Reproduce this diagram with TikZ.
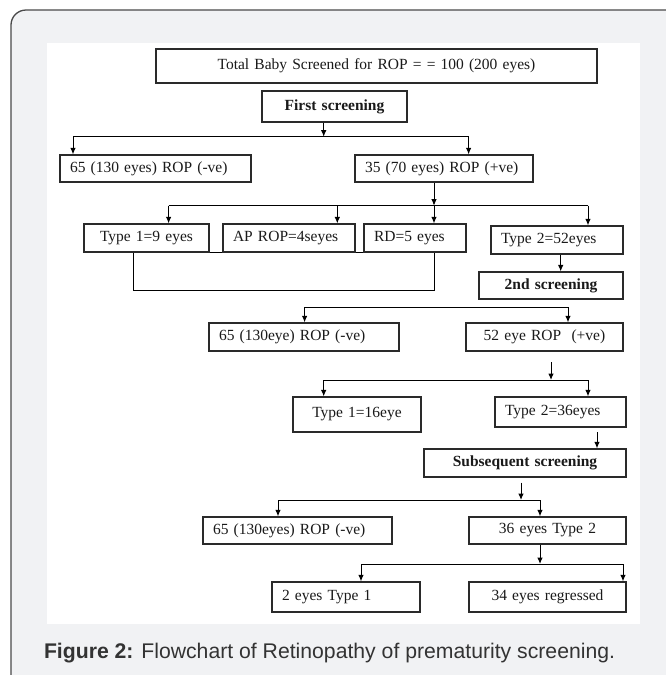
\documentclass[tikz,border=0pt]{standalone}
\usepackage{fontspec}
\setmainfont{Liberation Serif}
\newfontfamily\capfont{Liberation Sans}
\usetikzlibrary{arrows.meta}
\definecolor{panelgrey}{HTML}{F1F2F4}
\definecolor{framegrey}{HTML}{4A4A4A}
\definecolor{boxline}{HTML}{2A2A2A}
\definecolor{textdark}{HTML}{1A1A1A}
\definecolor{capgrey}{HTML}{333333}
\newcommand\boxfont{\fontsize{15.5}{17}\selectfont}
\tikzset{
  box/.style={draw=boxline, line width=1.2pt, fill=white, inner xsep=10pt, inner ysep=0pt,
    minimum height=28pt, font=\boxfont, text=textdark},
  lbox/.style={box, align=left},
  cbox/.style={box, align=center},
  bbox/.style={cbox, font=\boxfont\bfseries},
  ln/.style={draw=black, line width=1pt},
  arr/.style={ln, -{Latex[length=6.5pt,width=5.5pt]}}
}
\begin{document}
\begin{tikzpicture}[x=1pt,y=-1pt]
    \useasboundingbox (0,0) rectangle (666,675);
    \filldraw[fill=panelgrey, draw=framegrey, line width=1.3pt, rounded corners=15pt] (11,10) rectangle (690,700);
    \fill[white] (46.7,42.7) rectangle (640,624.3);

    % boxes
    \node[cbox, text width=421pt, minimum height=34pt] (total) at (376.5,66) {Total Baby Screened for ROP = = 100 (200 eyes)};
    \node[bbox, text width=125pt, minimum height=31pt] (first) at (334.5,106.5) {First screening};
    \node[lbox, text width=171pt, minimum height=27pt] (neg1) at (155.5,168.5) {65 (130 eyes) ROP (-ve)};
    \node[lbox, text width=158pt, minimum height=27pt] (pos1) at (444,168.5) {35 (70 eyes) ROP (+ve)};
    \node[cbox, text width=105pt] (t1a) at (146.5,238) {Type 1=9 eyes};
    \node[lbox, text width=112pt] (aprop) at (289,238) {AP ROP=4seyes};
    \node[lbox, text width=82pt] (rd) at (415,238) {RD=5 eyes};
    \node[lbox, text width=112pt] (t2a) at (557,240) {Type 2=52eyes};
    \node[bbox, text width=124pt, minimum height=27pt] (second) at (551,285.5) {2nd screening};
    \node[lbox, text width=170pt] (neg2) at (304,337) {65 (130eye) ROP (-ve)};
    \node[cbox, text width=137pt] (pos2) at (544.5,337) {52 eye ROP~~(+ve)};
    \node[cbox, text width=108pt, minimum height=35pt] (t1b) at (357,414.5) {Type 1=16eye};
    \node[lbox, text width=111pt, minimum height=30pt] (t2b) at (560.5,412) {Type 2=36eyes};
    \node[bbox, text width=182pt] (subs) at (525,463) {Subsequent screening};
    \node[lbox, text width=169pt, minimum height=27pt] (neg3) at (297.5,530.5) {65 (130eyes) ROP (-ve)};
    \node[cbox, text width=137pt, minimum height=27pt] (t2c) at (547.5,530.5) {36 eyes Type 2};
    \node[lbox, text width=128pt, minimum height=30pt] (t1c) at (346,597) {2 eyes Type 1};
    \node[cbox, text width=137pt, minimum height=30pt] (regr) at (547.5,597) {34 eyes regressed};

    % first screening
    \coordinate (j1) at (323.7,136.7);
    \coordinate (j1l) at (73,136.7);
    \coordinate (j1r) at (468.6,136.7);
    \draw[arr] (first.south -| j1) -- (j1);
    \draw[ln] (j1l) -- (j1r);
    \draw[arr] (j1l) -- (j1l |- neg1.north);
    \draw[arr] (j1r) -- (j1r |- pos1.north);

    % four groups
    \coordinate (j2) at (434,205.7);
    \coordinate (j2a) at (168.6,205.7);
    \coordinate (j2b) at (337.3,205.7);
    \coordinate (j2c) at (588,205.7);
    \draw[arr] (pos1.south -| j2) -- (j2);
    \draw[ln] (j2a) -- (j2c);
    \draw[arr] (j2a) -- (j2a |- t1a.north);
    \draw[arr] (j2b) -- (j2b |- aprop.north);
    \draw[arr] (j2) -- (j2 |- rd.north);
    \draw[arr] (j2c) -- (j2c |- t2a.north);
    \draw[ln] (t1a.south east) -- (aprop.south west);
    \draw[ln] (aprop.south east) -- (rd.south west);
    \coordinate (b1) at (133.4,290);
    \coordinate (b2) at (434,290);
    \draw[ln] (b1 |- t1a.south) -- (b1) -- (b2) -- (b2 |- rd.south);

    % second screening
    \coordinate (c3) at (560.7,0);
    \draw[arr] (c3 |- t2a.south) -- (c3 |- second.north);
    \coordinate (j3l) at (304.6,307.3);
    \coordinate (j3r) at (568,307.3);
    \draw[ln] (j3l) -- (j3r);
    \draw[arr] (j3l) -- (j3l |- neg2.north);
    \draw[arr] (j3r) -- (j3r |- pos2.north);
    \coordinate (j4t) at (551,362.3);
    \coordinate (j4) at (551,380);
    \coordinate (j4l) at (323.7,380);
    \coordinate (j4r) at (588,380);
    \draw[arr] (j4t) -- (j4);
    \draw[ln] (j4l) -- (j4r);
    \draw[arr] (j4l) -- (j4l |- t1b.north);
    \draw[arr] (j4r) -- (j4r |- t2b.north);

    % subsequent screening
    \coordinate (c5) at (597,432.3);
    \draw[arr] (c5) -- (c5 |- subs.north);
    \coordinate (j6t) at (521,482.7);
    \coordinate (j6) at (521,500);
    \coordinate (j6l) at (278,500);
    \coordinate (j6r) at (540,500);
    \draw[arr] (j6t) -- (j6);
    \draw[ln] (j6l) -- (j6r);
    \draw[arr] (j6l) -- (j6l |- neg3.north);
    \draw[arr] (j6r) -- (j6r |- t2c.north);
    \coordinate (j7) at (540,564);
    \coordinate (j7l) at (361,564);
    \coordinate (j7r) at (623,564);
    \draw[arr] (t2c.south -| j7) -- (j7);
    \draw[ln] (j7l) -- (j7r);
    \draw[arr] (j7l) -- (j7l |- t1c.north);
    \draw[arr] (j7r) -- (j7r |- regr.north);

    \node[anchor=base west, inner sep=0pt, text=capgrey, font=\capfont\fontsize{21.2}{24}\selectfont] (cap) at (43.8,658)
        {\textbf{Figure 2:} Flowchart of Retinopathy of prematurity screening.};
\end{tikzpicture}
\end{document}
